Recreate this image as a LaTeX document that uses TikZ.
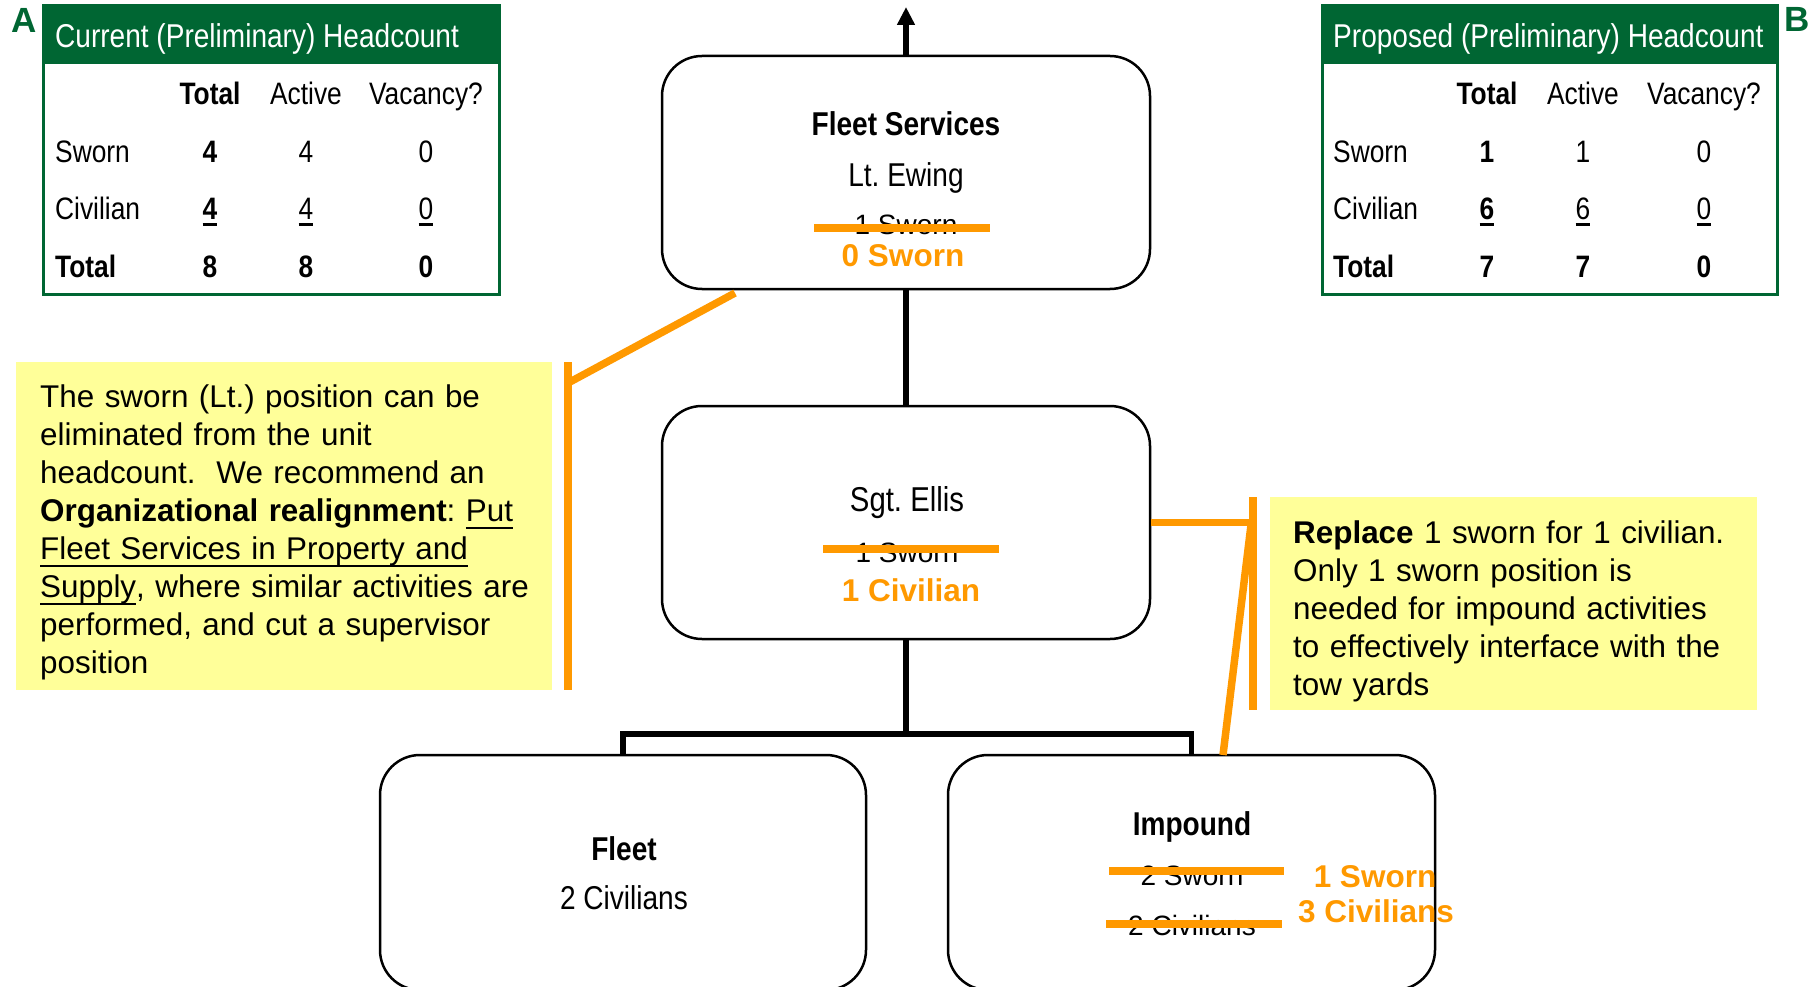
\documentclass[tikz,border=0pt]{standalone}
\usepackage{fontspec}
\setmainfont{Liberation Sans}
\newfontfamily\narrowfont[FakeStretch=0.85]{Liberation Sans}
\usetikzlibrary{arrows.meta}
\frenchspacing

\definecolor{hdgreen}{RGB}{0,102,51}
\definecolor{markorange}{RGB}{255,153,0}
\definecolor{noteyellow}{RGB}{255,255,153}

% underline drawn at a fixed depth below the baseline
\newcommand{\cellrule}[1]{\leavevmode\setbox0\hbox{#1}\rlap{\rule[-6pt]{\wd0}{2.5pt}}\box0}
\newcommand{\noterule}[1]{\leavevmode\setbox0\hbox{#1}\rlap{\rule[-8pt]{\wd0}{2.5pt}}\box0}

\begin{document}
\begin{tikzpicture}[x=1pt, y=-1pt,
  unitbox/.style={draw=black, line width=2.5pt, rounded corners=40pt, inner sep=0pt},
  link/.style={draw=black, line width=5.5pt, line join=miter},
  strikeline/.style={draw=markorange, line width=7.5pt},
  callout/.style={draw=markorange, line width=7.5pt},
  notebox/.style={fill=noteyellow, inner sep=0pt, anchor=north west},
  tableframe/.style={draw=hdgreen, line width=3pt, inner sep=0pt},
  tabhead/.style={inner sep=0pt, anchor=base west, text=white, font=\narrowfont\fontsize{33}{33}\selectfont},
  tcell/.style={inner sep=0pt, anchor=base, font=\narrowfont\fontsize{31}{31}\selectfont},
  tbold/.style={inner sep=0pt, anchor=base, font=\narrowfont\bfseries\fontsize{31}{31}\selectfont},
  tlabel/.style={tcell, anchor=base west},
  tlabelb/.style={tbold, anchor=base west},
  cornerletter/.style={inner sep=0pt, anchor=base, text=hdgreen, font=\bfseries\fontsize{35}{35}\selectfont},
  boxtitle/.style={inner sep=0pt, anchor=base, font=\narrowfont\bfseries\fontsize{33}{33}\selectfont},
  boxtext/.style={inner sep=0pt, anchor=base, font=\narrowfont\fontsize{33}{33}\selectfont},
  oldtext/.style={inner sep=0pt, anchor=base, font=\fontsize{28}{28}\selectfont},
  newtext/.style={inner sep=0pt, anchor=base, text=markorange, font=\bfseries\fontsize{31.5}{31.5}\selectfont},
  notetext/.style={inner sep=0pt, anchor=base west, align=left, font=\fontsize{31.4}{38}\selectfont}
]
\useasboundingbox (0,0) rectangle (1818,987);

% ---------- current headcount table ----------
\fill[hdgreen] (43.5,6) rectangle (499,64);
\node[tableframe, minimum width=455.5pt, minimum height=288pt] (tabA) at (271.25,150) {};
\node[cornerletter] (lblA) at (24.5,33) {A};
\node[tabhead] (tabA-title) at (55,48) {Current (Preliminary) Headcount};
\node[tbold] (tabA-h1) at (210,105) {Total};
\node[tcell] (tabA-h2) at (306,105) {Active};
\node[tcell] (tabA-h3) at (426,105) {Vacancy?};
\node[tlabel] (tabA-r1) at (55,163) {Sworn};
\node[tbold] (tabA-r1c1) at (210,163) {4};
\node[tcell] (tabA-r1c2) at (306,163) {4};
\node[tcell] (tabA-r1c3) at (426,163) {0};
\node[tlabel] (tabA-r2) at (55,220) {Civilian};
\node[tbold] (tabA-r2c1) at (210,220) {\cellrule{4}};
\node[tcell] (tabA-r2c2) at (306,220) {\cellrule{4}};
\node[tcell] (tabA-r2c3) at (426,220) {\cellrule{0}};
\node[tlabelb] (tabA-r3) at (55,277) {Total};
\node[tbold] (tabA-r3c1) at (210,277) {8};
\node[tbold] (tabA-r3c2) at (306,277) {8};
\node[tbold] (tabA-r3c3) at (426,277) {0};

% ---------- proposed headcount table ----------
\fill[hdgreen] (1322,6) rectangle (1777.5,64);
\node[tableframe, minimum width=455.5pt, minimum height=288pt] (tabB) at (1549.75,150) {};
\node[cornerletter] (lblB) at (1797,32) {B};
\node[tabhead] (tabB-title) at (1333,48) {Proposed (Preliminary) Headcount};
\node[tbold] (tabB-h1) at (1487,105) {Total};
\node[tcell] (tabB-h2) at (1583,105) {Active};
\node[tcell] (tabB-h3) at (1704,105) {Vacancy?};
\node[tlabel] (tabB-r1) at (1333,163) {Sworn};
\node[tbold] (tabB-r1c1) at (1487,163) {1};
\node[tcell] (tabB-r1c2) at (1583,163) {1};
\node[tcell] (tabB-r1c3) at (1704,163) {0};
\node[tlabel] (tabB-r2) at (1333,220) {Civilian};
\node[tbold] (tabB-r2c1) at (1487,220) {\cellrule{6}};
\node[tcell] (tabB-r2c2) at (1583,220) {\cellrule{6}};
\node[tcell] (tabB-r2c3) at (1704,220) {\cellrule{0}};
\node[tlabelb] (tabB-r3) at (1333,277) {Total};
\node[tbold] (tabB-r3c1) at (1487,277) {7};
\node[tbold] (tabB-r3c2) at (1583,277) {7};
\node[tbold] (tabB-r3c3) at (1704,277) {0};

% ---------- organisation boxes ----------
\node[unitbox, minimum width=488pt, minimum height=233pt] (fs) at (906,172.5) {};
\node[unitbox, minimum width=488pt, minimum height=233pt] (sgt) at (906,522.5) {};
\node[unitbox, minimum width=486pt, minimum height=235pt] (fleet) at (623,872.5) {};
\node[unitbox, minimum width=487pt, minimum height=235pt] (imp) at (1191.5,872.5) {};

% reporting lines
\coordinate (up) at (906,7);
\coordinate (bus) at (906,734);
\draw[link, -{Triangle[length=18pt,width=17pt]}] (fs.north) -- (up);
\draw[link] (fs.south) -- (sgt.north);
\draw[link] (sgt.south) -- (bus);
\draw[link] (fleet.north) |- (bus) -| (imp.north);

% Fleet Services
\node[boxtitle] (fs-name) at (906,136) {Fleet Services};
\node[boxtext] (fs-head) at (906,187) {Lt. Ewing};
\node[oldtext] (fs-old) at (906,235) {1 Sworn};
\node[newtext] (fs-new) at (903,266) {0 Sworn};
\draw[strikeline] (814,228) -- (990,228);

% Sgt. Ellis
\node[boxtext, font=\narrowfont\fontsize{34.5}{34.5}\selectfont] (sgt-name) at (907,511) {Sgt. Ellis};
\node[oldtext] (sgt-old) at (907,562) {1 Sworn};
\node[newtext] (sgt-new) at (911,601) {1 Civilian};
\draw[strikeline] (823,549) -- (999,549);

% Fleet
\node[boxtitle] (fleet-name) at (624,860) {Fleet};
\node[boxtext] (fleet-staff) at (624,909) {2 Civilians};

% Impound
\node[boxtitle] (imp-name) at (1192,835) {Impound};
\node[oldtext] (imp-old1) at (1192,885) {2 Sworn};
\node[oldtext] (imp-old2) at (1192,935) {2 Civilians};
\draw[strikeline] (1109,871) -- (1284,871);
\draw[strikeline] (1106,924) -- (1282,924);
\node[newtext] (imp-new1) at (1375,887) {1 Sworn};
\node[newtext] (imp-new2) at (1376,922) {3 Civilians};

% ---------- left note ----------
\node[notebox, minimum width=536pt, minimum height=328pt] (noteL) at (16,362) {};
\node[notetext, text width=510pt] (noteL-text) at (40,407) {The sworn (Lt.) position can be\\
eliminated from the unit\\
headcount.~ We recommend an\\
\textbf{Organizational realignment}: \noterule{Put}\\
\noterule{Fleet Services in Property and}\\
\noterule{Supply}, where similar activities are\\
performed, and cut a supervisor\\
position};
\coordinate (lTop) at (568,362);
\coordinate (lBot) at (568,690);
\coordinate (lJoin) at (568,383);
\coordinate (lFrom) at (735,293);
\draw[callout] (lTop) -- (lBot);
\draw[callout] (lFrom) -- (lJoin);

% ---------- right note ----------
\node[notebox, minimum width=487pt, minimum height=213pt] (noteR) at (1270,497) {};
\node[notetext, text width=460pt] (noteR-text) at (1293,543) {\textbf{Replace} 1 sworn for 1 civilian.\\
Only 1 sworn position is\\
needed for impound activities\\
to effectively interface with the\\
tow yards};
\coordinate (rTop) at (1253,497);
\coordinate (rBot) at (1253,710);
\coordinate (rJoin) at (1253,522.5);
\coordinate (rKnee) at (1251,525);
\coordinate (rImp) at (1223,755);
\draw[callout] (rTop) -- (rBot);
\draw[callout] (sgt.east) -- (rJoin);
\draw[callout] (rKnee) -- (rImp);
\end{tikzpicture}
\end{document}
